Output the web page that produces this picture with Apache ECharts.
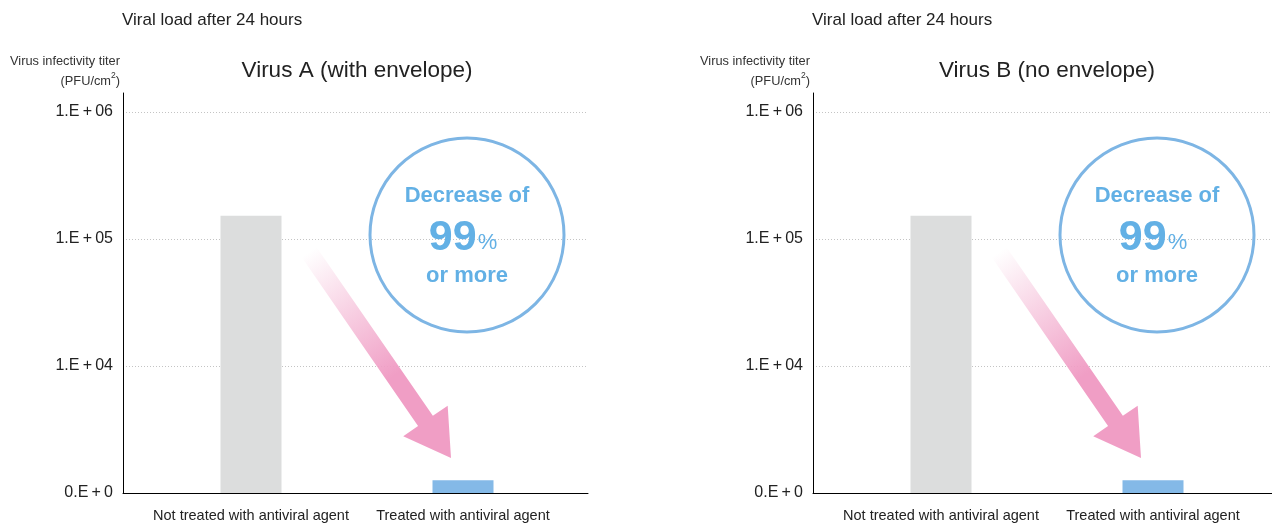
<!DOCTYPE html>
<html><head><meta charset="utf-8">
<script src="https://cdn.jsdelivr.net/npm/echarts@6/dist/echarts.min.js"></script>
<style>html,body{margin:0;padding:0;background:#fff}#c{width:1272px;height:525px}</style>
</head><body><div id="c"></div>
<script>
// ---- data ----
const categories = ['Not treated with antiviral agent', 'Treated with antiviral agent'];
const panelTitles = ['Virus A (with envelope)', 'Virus B (no envelope)'];
const virusA = [152000, 1260];
const virusB = [152000, 1260];
const yTickValues = [1e3, 1e4, 1e5, 1e6];
const yTickLabels = ['0.E\u2009+\u20090', '1.E\u2009+\u200904', '1.E\u2009+\u200905', '1.E\u2009+\u200906'];
const headerText = 'Viral load after 24 hours';
const yAxisTitleLine1 = 'Virus infectivity titer';
const yAxisTitleUnit = ['(PFU/cm', '2', ')'];
const calloutLines = ['Decrease of', '99', '%', 'or more'];
const barColors = ['#dcdddd', '#84b9e7'];

// ---- style / layout ----
const FONT = "'Liberation Sans', Arial, Helvetica, sans-serif";
const Y_MIN = 1e3, Y_MAX = 1.41e6;
const PANEL_DX = [0, 690];
const panelData = [virusA, virusB];

const grids = [], xAxes = [], yAxes = [], series = [], titles = [], graphics = [];

function tickLabel(v) {
  const k = yTickValues.findIndex(t => Math.abs(t - v) / t < 1e-6);
  return k >= 0 ? yTickLabels[k] : '';
}

function arrowPoints(dx) {
  const S = [309, 252], T = [451, 458];
  const L = Math.hypot(T[0] - S[0], T[1] - S[1]);
  const u = [(T[0] - S[0]) / L, (T[1] - S[1]) / L];
  const n = [-u[1], u[0]];
  const headLen = 45, headHalf = 27, shaftHalf = 9;
  const B = [T[0] - u[0] * headLen, T[1] - u[1] * headLen];
  const p = (P, k) => [P[0] + n[0] * k + dx, P[1] + n[1] * k];
  return [p(S, shaftHalf), p(B, shaftHalf), p(B, headHalf), [T[0] + dx, T[1]], p(B, -headHalf), p(B, -shaftHalf), p(S, -shaftHalf)];
}

PANEL_DX.forEach((dx, i) => {
  const g = grids.length;
  grids.push({ left: 123 + dx, top: 93, width: 465, height: 400 });
  grids.push({ left: 145 + dx, top: 93, width: 424, height: 400 });

  xAxes.push({
    gridIndex: g, type: 'category', data: categories,
    axisLine: { show: true, lineStyle: { color: '#000', width: 1 } },
    axisTick: { show: false }, axisLabel: { show: false }, splitLine: { show: false }
  });
  xAxes.push({
    gridIndex: g + 1, type: 'category', data: categories,
    axisLine: { show: false }, axisTick: { show: false },
    axisLabel: { color: '#222', fontSize: 14.5, fontFamily: FONT, margin: 15, interval: 0, hideOverlap: false }
  });

  yAxes.push({
    gridIndex: g, type: 'log', logBase: 10, min: Y_MIN, max: Y_MAX,
    axisLine: { show: true, lineStyle: { color: '#000', width: 1 } },
    axisTick: { show: false },
    axisLabel: { color: '#222', fontSize: 16, fontFamily: FONT, margin: 10, formatter: tickLabel, showMaxLabel: false },
    splitLine: { show: true, showMinLine: false, showMaxLine: false, lineStyle: { color: '#c4c4c4', width: 1, type: [1, 2] } },
    name: '{a|' + yAxisTitleLine1 + '}\n{a|' + yAxisTitleUnit[0] + '}{s|' + yAxisTitleUnit[1] + '}{a|' + yAxisTitleUnit[2] + '}',
    nameLocation: 'end', nameGap: 2,
    nameTextStyle: {
      align: 'right', verticalAlign: 'bottom', padding: [0, 3, 0, 0],
      rich: {
        a: { fontSize: 12.8, color: '#333', fontFamily: FONT, lineHeight: 20, align: 'right' },
        s: { fontSize: 8.5, color: '#333', fontFamily: FONT, lineHeight: 20, verticalAlign: 'top', padding: [0, 0, 7, 0] }
      }
    }
  });
  yAxes.push({ gridIndex: g + 1, type: 'log', logBase: 10, min: Y_MIN, max: Y_MAX, show: false, splitLine: { show: false } });

  series.push({
    type: 'bar', name: panelTitles[i], xAxisIndex: g + 1, yAxisIndex: g + 1,
    barWidth: 61, silent: true, clip: true,
    data: panelData[i].map((v, j) => ({ value: v, itemStyle: { color: barColors[j] } }))
  });

  titles.push({
    text: headerText, left: 122 + dx, top: 12, padding: 0,
    textStyle: { fontSize: 17, fontWeight: 'normal', color: '#222', fontFamily: FONT }
  });
  titles.push({
    text: panelTitles[i], left: 357 + dx, top: 59, padding: 0, textAlign: 'center',
    textStyle: { fontSize: 22.5, fontWeight: 'normal', color: '#222', fontFamily: FONT }
  });

  const cx = 467 + dx, cy = 235;
  graphics.push({
    type: 'polygon', z: 5, silent: true,
    shape: { points: arrowPoints(dx) },
    style: {
      fill: new echarts.graphic.LinearGradient(309 + dx, 252, 451 + dx, 458, [
        { offset: 0, color: 'rgba(240,158,197,0)' },
        { offset: 0.6, color: 'rgba(240,158,197,1)' },
        { offset: 1, color: 'rgba(240,158,197,1)' }
      ], true)
    }
  });
  graphics.push({
    type: 'circle', z: 5, silent: true,
    shape: { cx: cx, cy: cy, r: 97 },
    style: { fill: 'rgba(255,255,255,0)', stroke: '#7db5e4', lineWidth: 3 }
  });
  graphics.push({
    type: 'text', z: 6, silent: true, x: cx, y: 196,
    style: { text: calloutLines[0], fill: '#62b0e5', font: 'bold 22px ' + FONT, textAlign: 'center', textVerticalAlign: 'middle' }
  });
  graphics.push({
    type: 'text', z: 6, silent: true, x: cx - 4, y: 238,
    style: {
      text: '{n|' + calloutLines[1] + '}{p|' + calloutLines[2] + '}', textAlign: 'center', textVerticalAlign: 'middle',
      rich: {
        n: { fontSize: 43, fontWeight: 'bold', fontFamily: FONT, fill: '#62b0e5', color: '#62b0e5' },
        p: { fontSize: 22, fontFamily: FONT, fill: '#62b0e5', color: '#62b0e5', padding: [10, 0, 0, 1] }
      }
    }
  });
  graphics.push({
    type: 'text', z: 6, silent: true, x: cx, y: 276,
    style: { text: calloutLines[3], fill: '#62b0e5', font: 'bold 22px ' + FONT, textAlign: 'center', textVerticalAlign: 'middle' }
  });
});

const chart = echarts.init(document.getElementById('c'), null, { renderer: 'canvas' });
chart.setOption({
  animation: false,
  backgroundColor: '#fff',
  title: titles,
  grid: grids,
  xAxis: xAxes,
  yAxis: yAxes,
  series: series,
  graphic: graphics
});
</script>
</body></html>
